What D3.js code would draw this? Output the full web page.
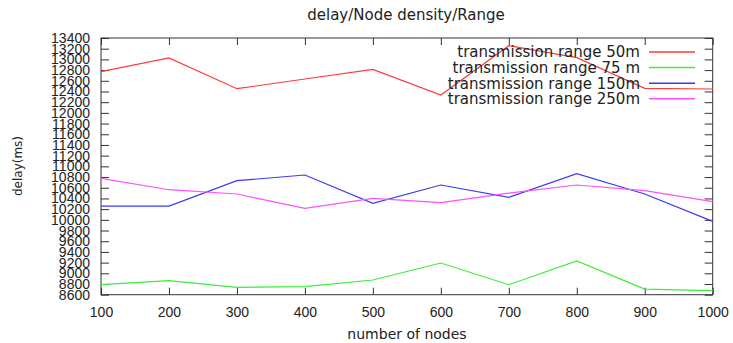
<!DOCTYPE html>
<html>
<head>
<meta charset="utf-8">
<script src="https://cdn.jsdelivr.net/npm/d3@7"></script>
<style>
  body { margin: 0; background: #fff; }
  svg { display: block; font-family: "DejaVu Sans", sans-serif; }
</style>
</head>
<body>
<svg id="chart" width="733" height="343"></svg>
<script>
const nodes = [100, 200, 300, 400, 500, 600, 700, 800, 900, 1000];
const range50  = [12770, 13026, 12452, 12633, 12814, 12334, 13256, 13032, 12459, 12446];
const range75  = [8787, 8862, 8738, 8750, 8875, 9192, 8787, 9230, 8706, 8675];
const range150 = [10258, 10258, 10732, 10838, 10309, 10651, 10421, 10863, 10483, 9972];
const range250 = [10776, 10563, 10483, 10215, 10402, 10320, 10501, 10651, 10545, 10339];
const seriesNames = ["transmission range 50m", "transmission range 75 m", "transmission range 150m", "transmission range 250m"];
const yTicks = d3.range(8600, 13401, 200);
const xTicks = nodes;

const colors = ["#ff3a3a", "#3aee3a", "#3a3aee", "#ff50ff"];
const seriesValues = [range50, range75, range150, range250];

const svg = d3.select("#chart");
const L = 101, R = 712.7, T = 38, B = 294.7;
const x = d3.scaleLinear().domain([100, 1000]).range([L, R]);
const y = d3.scaleLinear().domain([8600, 13400]).range([B, T]);

const axisColor = "#333";
const textColor = "#222";

// frame
svg.append("rect").attr("x", L).attr("y", T).attr("width", R - L).attr("height", B - T)
  .attr("fill", "none").attr("stroke", axisColor).attr("stroke-width", 1);

function styleAxis(g, hideText) {
  g.select(".domain").remove();
  g.selectAll("line").attr("stroke", axisColor);
  g.selectAll("text").attr("fill", textColor).style("font-size", "14px");
  if (hideText) g.selectAll("text").remove();
}

svg.append("g").attr("transform", `translate(0,${B})`)
  .call(d3.axisBottom(x).tickValues(xTicks).tickSizeInner(-7).tickSizeOuter(0).tickPadding(12).tickFormat(d3.format("d")))
  .call(g => styleAxis(g, false));
svg.append("g").attr("transform", `translate(0,${T})`)
  .call(d3.axisTop(x).tickValues(xTicks).tickSizeInner(-7).tickSizeOuter(0))
  .call(g => styleAxis(g, true));
svg.append("g").attr("transform", `translate(${L},0)`)
  .call(d3.axisLeft(y).tickValues(yTicks).tickSizeInner(-8).tickSizeOuter(0).tickPadding(11).tickFormat(d3.format("d")))
  .call(g => styleAxis(g, false));
svg.append("g").attr("transform", `translate(${R},0)`)
  .call(d3.axisRight(y).tickValues(yTicks).tickSizeInner(-8).tickSizeOuter(0))
  .call(g => styleAxis(g, true));

// lines
const line = d3.line().x((d, i) => x(nodes[i])).y(d => y(d));
seriesValues.forEach((vals, k) => {
  svg.append("path").datum(vals).attr("d", line)
    .attr("fill", "none").attr("stroke", colors[k]).attr("stroke-width", 1.2);
});

// legend
const legY = [52, 67.6, 83.2, 98.8];
seriesNames.forEach((name, k) => {
  svg.append("text").attr("x", 640).attr("y", legY[k]).attr("dy", "0.36em")
    .attr("text-anchor", "end").attr("fill", textColor).style("font-size", "15px").text(name);
  svg.append("line").attr("x1", 649).attr("x2", 695).attr("y1", legY[k]).attr("y2", legY[k])
    .attr("stroke", colors[k]).attr("stroke-width", 1.5);
});

// title & labels
svg.append("text").attr("x", 406).attr("y", 15).attr("dy", "0.36em").attr("text-anchor", "middle")
  .attr("fill", textColor).style("font-size", "15px").text("delay/Node density/Range");
svg.append("text").attr("x", 407).attr("y", 334).attr("dy", "0.36em").attr("text-anchor", "middle")
  .attr("fill", textColor).style("font-size", "14px").text("number of nodes");
svg.append("text").attr("transform", "translate(18,166) rotate(-90)").attr("dy", "0.36em")
  .attr("text-anchor", "middle").attr("fill", textColor).style("font-size", "12px").text("delay(ms)");
</script>
</body>
</html>
